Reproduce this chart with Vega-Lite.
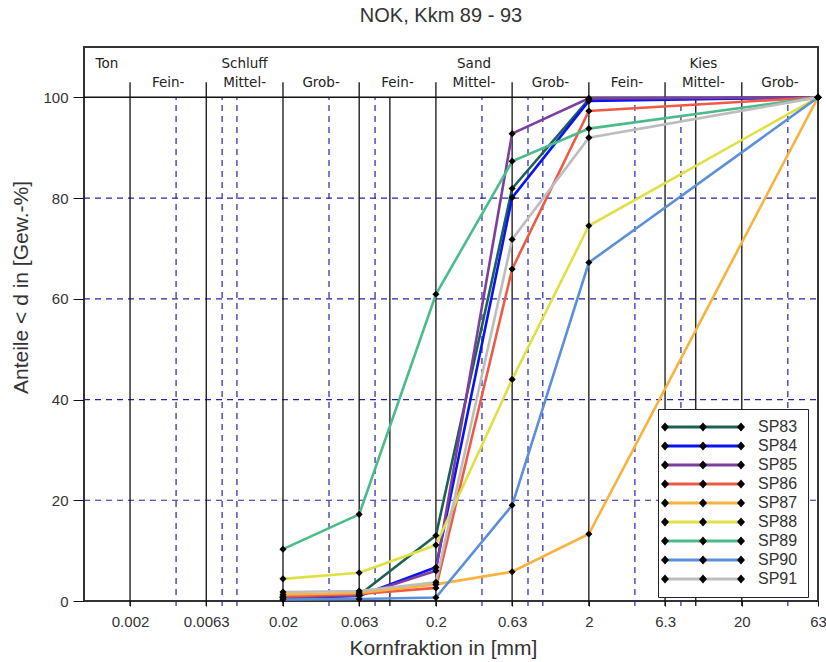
{
  "$schema": "https://vega.github.io/schema/vega-lite/v6.json",
  "width": 734,
  "height": 554,
  "autosize": {"type": "none"},
  "padding": {"left": 84, "top": 47, "right": 8, "bottom": 61},
  "background": "#ffffff",
  "title": {
    "text": "NOK, Kkm 89 - 93",
    "font": "Liberation Sans",
    "fontSize": 20,
    "fontWeight": "normal",
    "color": "#333333",
    "anchor": "middle",
    "dx": -10,
    "offset": 21
  },
  "config": {
    "view": {"stroke": "#333333", "strokeWidth": 2},
    "font": "Liberation Sans"
  },
  "datasets": {
    "sieve": [
      {"series": "SP83", "d": 0.02, "p": 0.8},
      {"series": "SP83", "d": 0.063, "p": 1.2},
      {"series": "SP83", "d": 0.2, "p": 13.0},
      {"series": "SP83", "d": 0.63, "p": 81.9},
      {"series": "SP83", "d": 2, "p": 99.6},
      {"series": "SP83", "d": 63, "p": 100},
      {"series": "SP84", "d": 0.02, "p": 0.6},
      {"series": "SP84", "d": 0.063, "p": 1.0},
      {"series": "SP84", "d": 0.2, "p": 6.7},
      {"series": "SP84", "d": 0.63, "p": 80.1},
      {"series": "SP84", "d": 2, "p": 99.3},
      {"series": "SP84", "d": 63, "p": 100},
      {"series": "SP85", "d": 0.02, "p": 0.7},
      {"series": "SP85", "d": 0.063, "p": 1.1},
      {"series": "SP85", "d": 0.2, "p": 6.0},
      {"series": "SP85", "d": 0.63, "p": 92.8},
      {"series": "SP85", "d": 2, "p": 99.8},
      {"series": "SP85", "d": 63, "p": 100},
      {"series": "SP86", "d": 0.02, "p": 0.9},
      {"series": "SP86", "d": 0.063, "p": 1.4},
      {"series": "SP86", "d": 0.2, "p": 2.6},
      {"series": "SP86", "d": 0.63, "p": 65.9},
      {"series": "SP86", "d": 2, "p": 97.3},
      {"series": "SP86", "d": 63, "p": 100},
      {"series": "SP87", "d": 0.02, "p": 1.3},
      {"series": "SP87", "d": 0.063, "p": 1.6},
      {"series": "SP87", "d": 0.2, "p": 3.3},
      {"series": "SP87", "d": 0.63, "p": 5.8},
      {"series": "SP87", "d": 2, "p": 13.3},
      {"series": "SP87", "d": 63, "p": 100},
      {"series": "SP88", "d": 0.02, "p": 4.4},
      {"series": "SP88", "d": 0.063, "p": 5.6},
      {"series": "SP88", "d": 0.2, "p": 11.1},
      {"series": "SP88", "d": 0.63, "p": 44.0},
      {"series": "SP88", "d": 2, "p": 74.5},
      {"series": "SP88", "d": 63, "p": 100},
      {"series": "SP89", "d": 0.02, "p": 10.3},
      {"series": "SP89", "d": 0.063, "p": 17.2},
      {"series": "SP89", "d": 0.2, "p": 60.9},
      {"series": "SP89", "d": 0.63, "p": 87.3},
      {"series": "SP89", "d": 2, "p": 93.8},
      {"series": "SP89", "d": 63, "p": 100},
      {"series": "SP90", "d": 0.02, "p": 0.3},
      {"series": "SP90", "d": 0.063, "p": 0.4},
      {"series": "SP90", "d": 0.2, "p": 0.7},
      {"series": "SP90", "d": 0.63, "p": 19.0},
      {"series": "SP90", "d": 2, "p": 67.2},
      {"series": "SP90", "d": 63, "p": 100},
      {"series": "SP91", "d": 0.02, "p": 1.8},
      {"series": "SP91", "d": 0.063, "p": 2.0},
      {"series": "SP91", "d": 0.2, "p": 3.7},
      {"series": "SP91", "d": 0.63, "p": 71.8},
      {"series": "SP91", "d": 2, "p": 92.0},
      {"series": "SP91", "d": 63, "p": 100}
    ],
    "boundaries": [
      {"d": 0.002}, {"d": 0.0063}, {"d": 0.02}, {"d": 0.063}, {"d": 0.2},
      {"d": 0.63}, {"d": 2}, {"d": 6.3}, {"d": 20}
    ],
    "decades": [{"d": 0.1}, {"d": 10}],
    "subdivisions": [
      {"d": 0.004}, {"d": 0.008}, {"d": 0.01}, {"d": 0.04}, {"d": 0.08},
      {"d": 0.4}, {"d": 0.8}, {"d": 1}, {"d": 4}, {"d": 8}, {"d": 40}
    ],
    "levels": [{"p": 20}, {"p": 40}, {"p": 60}, {"p": 80}],
    "mainClasses": [
      {"d": 0.00141, "label": "Ton"},
      {"d": 0.01122, "label": "Schluff"},
      {"d": 0.355, "label": "Sand"},
      {"d": 11.22, "label": "Kies"}
    ],
    "subClasses": [
      {"d": 0.00355, "label": "Fein-"},
      {"d": 0.01122, "label": "Mittel-"},
      {"d": 0.0355, "label": "Grob-"},
      {"d": 0.1122, "label": "Fein-"},
      {"d": 0.355, "label": "Mittel-"},
      {"d": 1.122, "label": "Grob-"},
      {"d": 3.55, "label": "Fein-"},
      {"d": 11.22, "label": "Mittel-"},
      {"d": 35.5, "label": "Grob-"}
    ]
  },
  "layer": [
    {
      "data": {"name": "subdivisions"},
      "mark": {"type": "rule", "color": "#2424a8", "strokeWidth": 1.2, "strokeDash": [6, 5]},
      "encoding": {
        "x": {"field": "d", "type": "quantitative"},
        "y": {"datum": -1, "type": "quantitative"},
        "y2": {"datum": 100}
      }
    },
    {
      "data": {"name": "levels"},
      "mark": {"type": "rule", "color": "#2424a8", "strokeWidth": 1.2, "strokeDash": [6, 5]},
      "encoding": {
        "y": {"field": "p", "type": "quantitative"},
        "x": {"datum": 0.001, "type": "quantitative"},
        "x2": {"datum": 63}
      }
    },
    {
      "data": {"name": "boundaries"},
      "mark": {"type": "rule", "color": "#111111", "strokeWidth": 1.3},
      "encoding": {
        "x": {"field": "d", "type": "quantitative"},
        "y": {"datum": -1, "type": "quantitative"},
        "y2": {"datum": 100}
      }
    },
    {
      "data": {"name": "boundaries"},
      "mark": {"type": "rule", "color": "#111111", "strokeWidth": 1.3},
      "encoding": {
        "x": {"field": "d", "type": "quantitative"},
        "y": {"datum": 100, "type": "quantitative"},
        "y2": {"datum": 103}
      }
    },
    {
      "data": {"name": "decades"},
      "mark": {"type": "rule", "color": "#111111", "strokeWidth": 1.3},
      "encoding": {
        "x": {"field": "d", "type": "quantitative"},
        "y": {"datum": -1, "type": "quantitative"},
        "y2": {"datum": 100}
      }
    },
    {
      "data": {"values": [{}]},
      "mark": {"type": "rule", "color": "#111111", "strokeWidth": 1.5},
      "encoding": {
        "y": {"datum": 100, "type": "quantitative"},
        "x": {"datum": 0.001, "type": "quantitative"},
        "x2": {"datum": 63}
      }
    },
    {
      "data": {"name": "mainClasses"},
      "mark": {"type": "text", "font": "DejaVu Sans", "fontSize": 13.5, "color": "#222222", "baseline": "middle", "align": "center"},
      "encoding": {
        "x": {"field": "d", "type": "quantitative"},
        "y": {"datum": 106.6, "type": "quantitative"},
        "text": {"field": "label"}
      }
    },
    {
      "data": {"name": "subClasses"},
      "mark": {"type": "text", "font": "DejaVu Sans", "fontSize": 13.5, "color": "#222222", "baseline": "middle", "align": "center"},
      "encoding": {
        "x": {"field": "d", "type": "quantitative"},
        "y": {"datum": 102.8, "type": "quantitative"},
        "text": {"field": "label"}
      }
    },
    {
      "data": {"name": "sieve"},
      "mark": {"type": "line", "strokeWidth": 2.6},
      "encoding": {
        "x": {
          "field": "d",
          "type": "quantitative",
          "scale": {"type": "log", "domain": [0.001, 63], "nice": false},
          "axis": {
            "title": "Kornfraktion in [mm]",
            "titleFont": "Liberation Sans",
            "titleFontSize": 21,
            "titleFontWeight": "normal",
            "titleColor": "#333333",
            "titleX": 359,
            "titleY": 47,
            "titleAlign": "center",
            "titleBaseline": "middle",
            "values": [0.002, 0.0063, 0.02, 0.063, 0.2, 0.63, 2, 6.3, 20, 63],
            "labelExpr": "'' + datum.value",
            "labelFont": "Liberation Sans",
            "labelFontSize": 15,
            "labelColor": "#333333",
            "labelPadding": 8,
            "labelFlush": false,
            "labelOverlap": false,
            "grid": false,
            "domain": false,
            "ticks": true,
            "tickSize": 5,
            "tickColor": "#111111"
          }
        },
        "y": {
          "field": "p",
          "type": "quantitative",
          "scale": {"domain": [0, 110], "nice": false, "zero": false},
          "axis": {
            "title": "Anteile < d in [Gew.-%]",
            "titleFont": "Liberation Sans",
            "titleFontSize": 21,
            "titleFontWeight": "normal",
            "titleColor": "#333333",
            "titleAngle": -90,
            "titleX": -63,
            "titleY": 240,
            "titleAlign": "center",
            "titleBaseline": "middle",
            "values": [0, 20, 40, 60, 80, 100],
            "labelFont": "Liberation Sans",
            "labelFontSize": 15,
            "labelColor": "#333333",
            "labelPadding": 5,
            "grid": false,
            "domain": false,
            "tickSize": 11,
            "tickColor": "#111111"
          }
        },
        "color": {
          "field": "series",
          "type": "nominal",
          "scale": {
            "domain": ["SP83", "SP84", "SP85", "SP86", "SP87", "SP88", "SP89", "SP90", "SP91"],
            "range": ["#1d6155", "#0a14f0", "#7d3f9d", "#ef5a45", "#f8b23e", "#dfe045", "#4cbb8c", "#5b8fd8", "#bdbdbd"]
          },
          "legend": {
            "orient": "none",
            "legendX": 574,
            "legendY": 362,
            "title": null,
            "symbolType": "M-7.6,0L7.6,0",
            "symbolSize": 100,
            "symbolStrokeWidth": 3,
            "labelFont": "Liberation Sans",
            "labelFontSize": 16,
            "labelColor": "#333333",
            "padding": 10,
            "rowPadding": 3,
            "symbolOffset": 27,
            "labelOffset": 47,
            "strokeColor": "#222222",
            "fillColor": "#ffffff",
            "zindex": 1
          }
        }
      }
    },
    {
      "data": {"name": "sieve"},
      "mark": {"type": "point", "shape": "diamond", "filled": true, "color": "#000000", "opacity": 1, "size": 50},
      "encoding": {
        "x": {"field": "d", "type": "quantitative"},
        "y": {"field": "p", "type": "quantitative"}
      }
    },
    {
      "data": {"name": "sieve"},
      "mark": {"type": "point", "filled": true, "color": "#000000", "opacity": 0},
      "encoding": {
        "x": {"field": "d", "type": "quantitative"},
        "y": {"field": "p", "type": "quantitative"},
        "shape": {
          "field": "series",
          "type": "nominal",
          "scale": {
            "range": [
              "M-8.4,0L-7.6,-0.9L-6.8,0L-7.6,0.9ZM-0.8,0L0,-0.9L0.8,0L0,0.9ZM6.8,0L7.6,-0.9L8.4,0L7.6,0.9Z"
            ]
          },
          "legend": {
            "orient": "none",
            "legendX": 574,
            "legendY": 362,
            "title": null,
            "symbolSize": 100,
            "symbolStrokeWidth": 0,
            "symbolFillColor": "#000000",
            "symbolStrokeColor": "#000000",
            "symbolOpacity": 1,
            "labelFont": "Liberation Sans",
            "labelFontSize": 16,
            "labelOpacity": 0,
            "padding": 10,
            "rowPadding": 3,
            "symbolOffset": 27,
            "labelOffset": 47,
            "zindex": 2
          }
        }
      }
    }
  ]
}
